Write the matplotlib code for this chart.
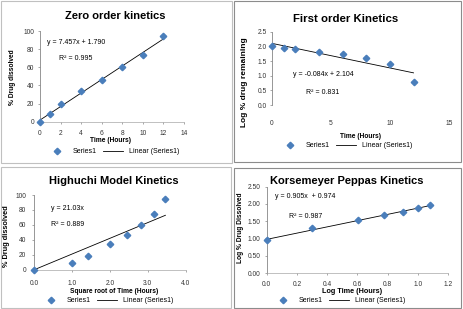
import numpy as np
import matplotlib
matplotlib.use("Agg")
import matplotlib.pyplot as plt
from matplotlib.lines import Line2D
from matplotlib.patches import Rectangle
import matplotlib.ticker as ticker

plt.rcParams['font.family'] = ['Liberation Sans', 'DejaVu Sans']

# data
time_h = [0, 1, 2, 4, 6, 8, 10, 12]
dissolved = [0, 9, 19, 34, 46, 60, 74, 94]
log_remaining = [2.00, 1.96, 1.91, 1.82, 1.73, 1.60, 1.41, 0.78]
sqrt_time = [0, 1.0, 1.414, 2.0, 2.449, 2.828, 3.162, 3.464]
log_time = [0, 0.301, 0.602, 0.778, 0.903, 1.0, 1.079]
log_dissolved = [0.97, 1.29, 1.54, 1.67, 1.78, 1.87, 1.97]

# trendline equations shown on the chart (slope, intercept)
fit_zero = (7.457, 1.790)
fit_first = (-0.084, 2.104)
fit_higuchi = (21.03, 0.0)
fit_peppas = (0.905, 0.974)

W, H = 463, 309
fig = plt.figure(figsize=(W / 100, H / 100), dpi=100)
fig.patch.set_facecolor("white")

blue = "#4a7ebb"
gray = "#868686"


def px(x, y):
    return x / W, 1 - y / H


def add_ax(l, t, r, b):
    return fig.add_axes([l / W, 1 - b / H, (r - l) / W, (b - t) / H])


def ftext(x, y, s, **kw):
    fx, fy = px(x, y)
    fig.text(fx, fy, s, **kw)


# panel borders
for (l, t, r, b, c) in [(1, 1, 232, 163, "#c0c0c0"), (234, 1, 461, 162, "#8c8c8c"),
                        (1, 167, 231, 308, "#c0c0c0"), (234, 168, 461, 308, "#8c8c8c")]:
    fig.patches.append(Rectangle(px(l, b), (r - l) / W, (b - t) / H, transform=fig.transFigure,
                                 fill=False, edgecolor=c, linewidth=0.8))


def setup(ax, xlim, ylim, xstep, ystep, xfmt, yfmt, ypad, xpad, bottom=True):
    ax.set_xlim(*xlim)
    ax.set_ylim(*ylim)
    ax.xaxis.set_major_locator(ticker.MultipleLocator(xstep))
    ax.yaxis.set_major_locator(ticker.MultipleLocator(ystep))
    ax.xaxis.set_major_formatter(ticker.FormatStrFormatter(xfmt))
    ax.yaxis.set_major_formatter(ticker.FormatStrFormatter(yfmt))
    for s in ["top", "right"]:
        ax.spines[s].set_visible(False)
    ax.spines["left"].set_color(gray)
    ax.spines["left"].set_linewidth(0.6)
    ax.spines["bottom"].set_color("#a6a6a6")
    ax.spines["bottom"].set_linewidth(0.5)
    ax.spines["bottom"].set_visible(bottom)
    ax.tick_params(axis="y", length=1.5, width=0.5, color=gray, labelsize=4.8, pad=ypad,
                   labelcolor="#333333")
    ax.tick_params(axis="x", length=1.5 if bottom else 0, width=0.5, color=gray, labelsize=4.8,
                   pad=xpad, labelcolor="#333333")


def draw(ax, x, y, fit):
    ax.plot(x, y, linestyle="none", marker="D", markersize=3.3, color=blue, clip_on=False, zorder=3)
    xs = np.array([x[0], x[-1]])
    ax.plot(xs, fit[0] * xs + fit[1], color="black", linewidth=0.6, zorder=2)


def legend(cx, cy):
    handles = [Line2D([], [], linestyle="none", marker="D", markersize=3.3, color=blue),
               Line2D([], [], color="black", linewidth=0.6)]
    fx, fy = px(cx, cy)
    fig.legend(handles, ["Series1", "Linear (Series1)"], loc="center", bbox_to_anchor=(fx, fy),
               ncol=2, frameon=False, fontsize=5, handlelength=3.0, handletextpad=0.8,
               columnspacing=0.8, borderpad=0)


# Zero order
ax1 = add_ax(40, 31, 184, 121.7)
setup(ax1, (0, 14), (0, 100), 2, 20, "%d", "%d", 2.5, 4.5)
draw(ax1, time_h, dissolved, fit_zero)
ftext(115, 16, "Zero order kinetics", ha="center", va="center", fontsize=8, fontweight="bold")
ftext(110, 141, "Time (Hours)", ha="center", va="center", fontsize=4.8, fontweight="bold")
ftext(12.7, 77, "% Drug dissolved", ha="center", va="center", fontsize=4.8, fontweight="bold",
      rotation=90)
ftext(47, 43, "y = 7.457x + 1.790", ha="left", va="center", fontsize=5)
ftext(59, 58, "R² = 0.995", ha="left", va="center", fontsize=5)
legend(113, 152)

# First order
ax2 = add_ax(271.7, 31.7, 449, 105)
setup(ax2, (0, 15), (0, 2.5), 5, 0.5, "%d", "%.1f", 2, 11, bottom=False)
draw(ax2, time_h, log_remaining, fit_first)
ftext(346, 19, "First order Kinetics", ha="center", va="center", fontsize=8.2, fontweight="bold")
ftext(360, 137, "Time (Hours)", ha="center", va="center", fontsize=4.8, fontweight="bold")
ftext(244, 82, "Log % drug remaining", ha="center", va="center", fontsize=6, fontweight="bold",
      rotation=90)
ftext(293, 74, "y = -0.084x + 2.104", ha="left", va="center", fontsize=5)
ftext(306, 92, "R² = 0.831", ha="left", va="center", fontsize=5)
legend(346, 146)

# Higuchi
ax3 = add_ax(34.3, 195, 185.7, 269.7)
setup(ax3, (0, 4), (0, 100), 1, 20, "%.1f", "%d", 4.5, 6)
draw(ax3, sqrt_time, dissolved, fit_higuchi)
ftext(114, 181, "Highuchi Model Kinetics", ha="center", va="center", fontsize=8, fontweight="bold")
ftext(114, 291.5, "Square root of Time (Hours)", ha="center", va="center", fontsize=4.8,
      fontweight="bold")
ftext(7, 236, "% Drug dissolved", ha="center", va="center", fontsize=5.3, fontweight="bold",
      rotation=90)
ftext(51, 208, "y = 21.03x", ha="left", va="center", fontsize=5)
ftext(51, 225, "R² = 0.889", ha="left", va="center", fontsize=5)
legend(107, 300.5)

# Korsmeyer-Peppas
ax4 = add_ax(266.7, 186.7, 448, 273)
setup(ax4, (0, 1.2), (0, 2.5), 0.2, 0.5, "%.1f", "%.2f", 3, 4.5)
draw(ax4, log_time, log_dissolved, fit_peppas)
ftext(347, 181, "Korsemeyer Peppas Kinetics", ha="center", va="center", fontsize=8,
      fontweight="bold")
ftext(352, 291.5, "Log Time (Hours)", ha="center", va="center", fontsize=5.2, fontweight="bold")
ftext(241, 228, "Log % Drug Dissolved", ha="center", va="center", fontsize=4.8, fontweight="bold",
      rotation=90)
ftext(275, 197, "y = 0.905x  + 0.974", ha="left", va="center", fontsize=5)
ftext(289, 216, "R² = 0.987", ha="left", va="center", fontsize=5)
legend(339, 300.5)

fig.savefig("out.png", dpi=100)
